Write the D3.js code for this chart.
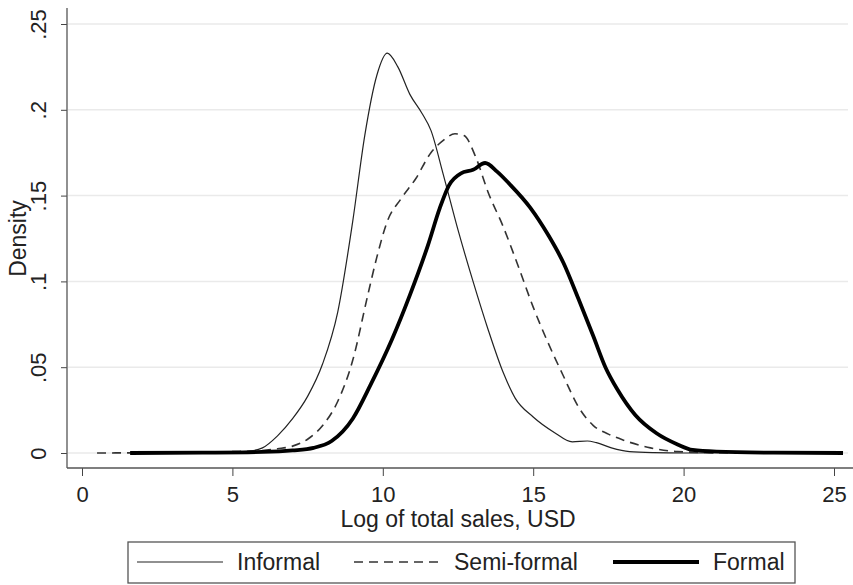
<!DOCTYPE html>
<html>
<head>
<meta charset="utf-8">
<script src="https://cdn.jsdelivr.net/npm/d3@7"></script>
<style>
  body { margin: 0; background: #fff; }
  text { font-family: "Liberation Sans", Arial, sans-serif; fill: #222; }
</style>
</head>
<body>
<svg id="chart" width="853" height="585"></svg>
<script>
// kernel density estimates: [log sales, density]
var informal = [
  [2, 0], [4, 0.0002], [5.5, 0.001], [6.0, 0.003], [6.5, 0.010], [7.0, 0.020],
  [7.5, 0.033], [8.0, 0.052], [8.5, 0.082], [9.0, 0.135], [9.4, 0.185],
  [9.8, 0.220], [10.15, 0.233], [10.5, 0.225], [10.9, 0.209], [11.3, 0.198],
  [11.6, 0.188], [12.0, 0.163], [12.5, 0.130], [13.0, 0.100], [13.5, 0.072],
  [14.0, 0.047], [14.4, 0.032], [15.0, 0.021], [15.7, 0.012], [16.3, 0.0065],
  [16.8, 0.007], [17.1, 0.006], [17.6, 0.003], [18.2, 0.0008], [19, 0.0002],
  [20, 0], [21, 0]
];
var semiformal = [
  [0.5, 0], [3, 0.0003], [5, 0.0008], [6, 0.0015], [6.5, 0.0025], [7.0, 0.004],
  [7.5, 0.008], [8.0, 0.016], [8.5, 0.030], [9.0, 0.054], [9.5, 0.092],
  [9.8, 0.114], [10.15, 0.135], [10.6, 0.148], [11.1, 0.160], [11.6, 0.175],
  [12.0, 0.182], [12.4, 0.186], [12.7, 0.185], [13.1, 0.172], [13.5, 0.152],
  [14.0, 0.132], [14.5, 0.109], [15.0, 0.085], [15.5, 0.064], [16.0, 0.045],
  [16.5, 0.027], [17.0, 0.016], [17.5, 0.011], [18.0, 0.0075], [18.9, 0.003],
  [19.8, 0.0008], [21, 0.0002], [23, 0]
];
var formal = [
  [1.6, 0], [4, 0.0002], [6, 0.0006], [7.0, 0.0015], [7.7, 0.003], [8.3, 0.007],
  [9.0, 0.020], [9.6, 0.040], [10.3, 0.066], [10.9, 0.092], [11.5, 0.121],
  [11.9, 0.143], [12.2, 0.156], [12.6, 0.163], [13.0, 0.165], [13.4, 0.169],
  [13.8, 0.164], [14.2, 0.157], [14.9, 0.143], [15.5, 0.127], [16.0, 0.111],
  [16.5, 0.090], [17.0, 0.068], [17.4, 0.050], [17.8, 0.037], [18.4, 0.022],
  [19.1, 0.0115], [19.8, 0.005], [20.3, 0.0018], [21.1, 0.0008], [23, 0.0002],
  [25.3, 0]
];

var xTicks = [0, 5, 10, 15, 20, 25];
var yTicks = [0, 0.05, 0.1, 0.15, 0.2, 0.25];
var yTickLabels = ["0", ".05", ".1", ".15", ".2", ".25"];
var legendNames = ["Informal", "Semi-formal", "Formal"];

var svg = d3.select("#chart");

var x = d3.scaleLinear().domain([0, 25]).range([82, 834]);
var y = d3.scaleLinear().domain([0, 0.25]).range([453, 24]);

// horizontal grid lines
svg.selectAll("line.grid")
    .data(yTicks)
    .enter().append("line")
    .attr("class", "grid")
    .attr("x1", 68).attr("x2", 848)
    .attr("y1", function (d) { return y(d); })
    .attr("y2", function (d) { return y(d); })
    .style("stroke", "#eaeaea")
    .style("stroke-width", 1.5);

// axes
var yAxis = d3.axisLeft(y).tickValues(yTicks).tickSize(6)
    .tickFormat(function (d, i) { return yTickLabels[i]; });
var gy = svg.append("g").attr("transform", "translate(67,0)").call(yAxis);
gy.select(".domain").remove();
gy.selectAll(".tick line").style("stroke", "#444");
gy.selectAll(".tick text")
    .attr("x", 0).attr("y", 0).attr("dy", 0)
    .attr("transform", "translate(-21,0) rotate(-90)")
    .style("text-anchor", "middle")
    .style("font-size", "22px")
    .style("fill", "#222");

var xAxis = d3.axisBottom(x).tickValues(xTicks).tickSize(8).tickFormat(d3.format("d"));
var gx = svg.append("g").attr("transform", "translate(0,468)").call(xAxis);
gx.select(".domain").remove();
gx.selectAll(".tick line").style("stroke", "#444");
gx.selectAll(".tick text")
    .attr("y", 34).attr("dy", 0)
    .style("font-size", "22px")
    .style("fill", "#222");

svg.append("line")
    .attr("x1", 67).attr("x2", 67).attr("y1", 8).attr("y2", 468)
    .style("stroke", "#555").style("stroke-width", 1.3);
svg.append("line")
    .attr("x1", 67).attr("x2", 853).attr("y1", 468).attr("y2", 468)
    .style("stroke", "#555").style("stroke-width", 1.3);

// axis titles
svg.append("text")
    .attr("transform", "translate(26," + ((y(0) + y(0.25)) / 2) + ") rotate(-90)")
    .style("text-anchor", "middle")
    .style("font-size", "23px")
    .text("Density");
svg.append("text")
    .attr("x", (x(0) + x(25)) / 2)
    .attr("y", 527)
    .style("text-anchor", "middle")
    .style("font-size", "23px")
    .text("Log of total sales, USD");

// density curves
var line = d3.line()
    .x(function (d) { return x(d[0]); })
    .y(function (d) { return y(d[1]); })
    .curve(d3.curveMonotoneX);

var styles = [
    { width: 1.2, dash: null, color: "#222" },
    { width: 1.6, dash: "9,6", color: "#333" },
    { width: 3.8, dash: null, color: "#000" }
];

[informal, semiformal, formal].forEach(function (series, i) {
    svg.append("path")
        .datum(series)
        .attr("d", line)
        .style("fill", "none")
        .style("stroke", styles[i].color)
        .style("stroke-width", styles[i].width)
        .style("stroke-dasharray", styles[i].dash)
        .style("stroke-linejoin", "round");
});

// legend
svg.append("rect")
    .attr("x", 128).attr("y", 542).attr("width", 667).attr("height", 41)
    .style("fill", "#fff").style("stroke", "#555").style("stroke-width", 1.3);

var legendX = [137, 354, 613];
legendNames.forEach(function (name, i) {
    svg.append("line")
        .attr("x1", legendX[i]).attr("x2", legendX[i] + 86)
        .attr("y1", 562).attr("y2", 562)
        .style("stroke", styles[i].color)
        .style("stroke-width", styles[i].width)
        .style("stroke-dasharray", styles[i].dash);
    svg.append("text")
        .attr("x", legendX[i] + 100)
        .attr("y", 570)
        .style("font-size", "23px")
        .text(name);
});
</script>
</body>
</html>
